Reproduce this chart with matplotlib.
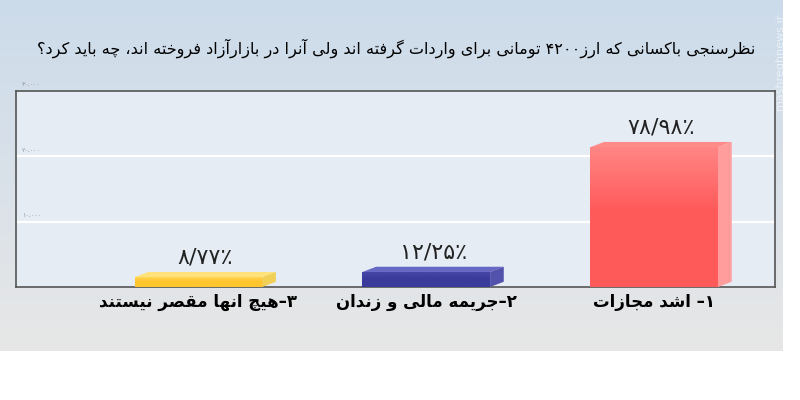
import re
import numpy as np
import matplotlib
matplotlib.use('Agg')
import matplotlib.pyplot as plt
from matplotlib.patches import Polygon
from matplotlib.colors import to_rgb

# data, right-to-left order in the picture (item 1 sits on the right)
categories = ['۳–هیچ انها مقصر نیستند', '۲–جریمه مالی و زندان', '۱– اشد مجازات']
bar_heights = [1500, 2300, 21400]
value_labels = ['۸/۷۷٪', '۱۲/۲۵٪', '۷۸/۹۸٪']
yticks = [10000, 20000, 30000]
ytick_labels = ['۱۰,۰۰۰', '۲۰,۰۰۰', '۳۰,۰۰۰']
title = 'نظرسنجی باکسانی که ارز۴۲۰۰ تومانی برای واردات گرفته اند ولی آنرا در بازارآزاد فروخته اند، چه باید کرد؟'

front_colors = ['#ffc62e', '#3b3b9c', '#ff5a5a']
front_light = ['#ffd24d', '#4848aa', '#ff8585']
top_colors = ['#ffe27a', '#6767c4', '#ff8a8a']
side_colors = ['#f2cf55', '#5252ad', '#ff9c9c']

# isolated, final, initial, medial presentation forms
FORMS = {
    'ا': ('\uFE8D', '\uFE8E', None, None),
    'آ': ('\uFE81', '\uFE82', None, None),
    'د': ('\uFEA9', '\uFEAA', None, None),
    'ر': ('\uFEAD', '\uFEAE', None, None),
    'ز': ('\uFEAF', '\uFEB0', None, None),
    'و': ('\uFEED', '\uFEEE', None, None),
    'ب': ('\uFE8F', '\uFE90', '\uFE91', '\uFE92'),
    'ت': ('\uFE95', '\uFE96', '\uFE97', '\uFE98'),
    'ج': ('\uFE9D', '\uFE9E', '\uFE9F', '\uFEA0'),
    'خ': ('\uFEA5', '\uFEA6', '\uFEA7', '\uFEA8'),
    'س': ('\uFEB1', '\uFEB2', '\uFEB3', '\uFEB4'),
    'ش': ('\uFEB5', '\uFEB6', '\uFEB7', '\uFEB8'),
    'ص': ('\uFEB9', '\uFEBA', '\uFEBB', '\uFEBC'),
    'ظ': ('\uFEC5', '\uFEC6', '\uFEC7', '\uFEC8'),
    'ف': ('\uFED1', '\uFED2', '\uFED3', '\uFED4'),
    'ق': ('\uFED5', '\uFED6', '\uFED7', '\uFED8'),
    'ل': ('\uFEDD', '\uFEDE', '\uFEDF', '\uFEE0'),
    'م': ('\uFEE1', '\uFEE2', '\uFEE3', '\uFEE4'),
    'ن': ('\uFEE5', '\uFEE6', '\uFEE7', '\uFEE8'),
    'ه': ('\uFEE9', '\uFEEA', '\uFEEB', '\uFEEC'),
    '\u06CC': ('\uFBFC', '\uFBFD', '\uFBFE', '\uFBFF'),
    '\u06A9': ('\uFB8E', '\uFB8F', '\uFB90', '\uFB91'),
    'گ': ('\uFB92', '\uFB93', '\uFB94', '\uFB95'),
    'چ': ('\uFB7A', '\uFB7B', '\uFB7C', '\uFB7D'),
}


def rtl(s):
    # shape the letters and put them in visual order, digits stay left-to-right
    s = s.replace('\u064A', '\u06CC').replace('\u0643', '\u06A9')
    out = []
    for i, ch in enumerate(s):
        if ch not in FORMS:
            out.append(ch)
            continue
        f = FORMS[ch]
        prev = s[i - 1] if i > 0 else ''
        nxt = s[i + 1] if i + 1 < len(s) else ''
        jp = prev in FORMS and FORMS[prev][2] is not None
        jn = f[2] is not None and nxt in FORMS
        if jp and jn:
            out.append(f[3])
        elif jp:
            out.append(f[1])
        elif jn:
            out.append(f[2])
        else:
            out.append(f[0])
    s = ''.join(out)
    runs = re.findall(r'[۰-۹0-9/,٪]+|[^۰-۹0-9/,٪]+', s)
    runs = [r if re.match(r'[۰-۹0-9/,٪]', r) else r[::-1] for r in runs]
    return ''.join(runs[::-1])


plt.rcParams['font.family'] = ['DejaVu Sans']

fig = plt.figure(figsize=(8, 4), dpi=100)
fig.patch.set_facecolor('white')

# background panel gradient
bg = fig.add_axes([0, 1 - 351 / 400, 0.978, 351 / 400], zorder=-5)
grad = np.linspace(0, 1, 256).reshape(-1, 1)
top_c = np.array([0.80, 0.86, 0.92])
bot_c = np.array([0.905, 0.905, 0.905])
img = top_c * (1 - grad[..., None]) + bot_c * grad[..., None]
img = np.repeat(img, 2, axis=1)
bg.imshow(img, aspect='auto', extent=[0, 1, 0, 1])
bg.axis('off')

ax = fig.add_axes([16 / 800, 1 - 287 / 400, 759 / 800, 196 / 400])
ax.set_facecolor('#e5ecf4')
ax.set_xlim(-0.80, 2.53)
ax.set_ylim(0, 30000)

for y in yticks[:-1]:
    ax.axhline(y, color='white', lw=1.6, zorder=1)
for y, lab in zip(yticks, ytick_labels):
    ax.text(0.008, y + 600, lab, fontsize=4.5, color='#8e949c',
            transform=ax.get_yaxis_transform(), va='bottom', ha='left')
ax.set_yticks([])

x = np.arange(len(categories))
w = 0.56
dx = 0.06
dy = 800
bars = ax.bar(x, bar_heights, width=w, color=front_colors, zorder=3)
for b, c_lo, c_hi in zip(bars, front_colors, front_light):
    # soft vertical shading on the front face
    t = np.clip(np.linspace(1, 0, 100) * 2.2 - 1.2, 0, 1).reshape(-1, 1, 1)
    shade = np.array(to_rgb(c_lo)) * (1 - t) + np.array(to_rgb(c_hi)) * t
    im = ax.imshow(shade, aspect='auto', zorder=3.5,
                   extent=[b.get_x(), b.get_x() + b.get_width(), 0, b.get_height()])
    im.set_clip_path(b)
ax.set_xlim(-0.80, 2.53)
ax.set_ylim(0, 30000)

for xi, h, tc, sc, lab in zip(x, bar_heights, top_colors, side_colors, value_labels):
    left, right = xi - w / 2, xi + w / 2
    ax.add_patch(Polygon([(left, h), (right, h), (right + dx, h + dy), (left + dx, h + dy)],
                         closed=True, fc=tc, ec='none', zorder=4))
    ax.add_patch(Polygon([(right, 0), (right + dx, dy), (right + dx, h + dy), (right, h)],
                         closed=True, fc=sc, ec='none', zorder=4))
    ax.annotate(lab, (xi + dx / 2, h + dy), xytext=(0, 3), textcoords='offset points',
                ha='center', va='bottom', fontsize=16, color='#222222')

ax.set_xticks(x)
ax.set_xticklabels([rtl(c) for c in categories], fontsize=12, fontweight='bold', color='black')
ax.tick_params(axis='x', length=0, pad=4)
for sp in ax.spines.values():
    sp.set_color('#555555')
    sp.set_linewidth(1.2)

fig.text(0.495, 1 - 48 / 400, rtl(title), ha='center', va='center', fontsize=11.6, color='black')
fig.text(0.975, 1 - 62 / 400, 'mashreghnews.ir', rotation=90, ha='center', va='center',
         fontsize=8, color='white', alpha=0.6)

fig.savefig('out.png', dpi=100)
